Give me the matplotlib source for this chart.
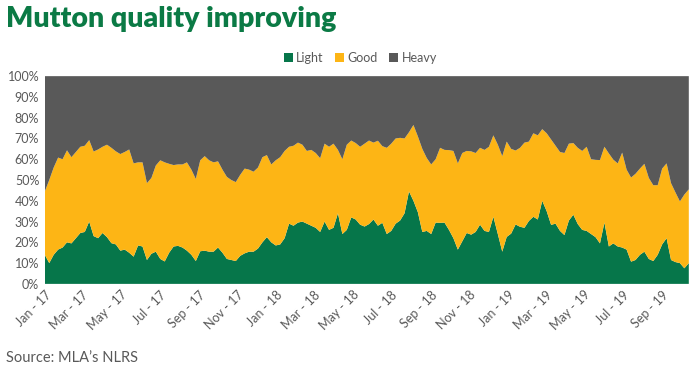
"""Mutton quality improving: weekly share of Light / Good / Heavy mutton."""
import numpy as np
import pandas as pd
import matplotlib
matplotlib.use("Agg")
import matplotlib.pyplot as plt
import matplotlib.dates as mdates
from matplotlib.ticker import FuncFormatter

# weekly shares (%), first week of Jan 2017 onwards
light = [
    14, 10, 14, 16.5, 17.5, 20, 19.5, 22, 24.5, 25,
    30, 23, 22, 24.5, 22.5, 19.6, 19, 16, 16.5, 15,
    13.1, 18.5, 18, 11.5, 14.5, 15.5, 12, 10.8, 15, 18,
    18.3, 17.5, 16, 14, 11, 15.7, 16, 15.5, 15.5, 17.5,
    15, 12, 11.5, 11, 13.5, 14.7, 15.5, 15.5, 17, 20,
    22.5, 20, 18.5, 19, 22, 29, 28, 29.5, 30, 29,
    28, 27, 25, 30, 26, 27, 34, 24, 26, 32,
    31, 28.5, 27.6, 28.8, 31, 28, 29.4, 24, 25.5, 29,
    30.5, 34, 44.5, 40, 34.5, 25, 25.5, 24, 29.5, 29.4,
    29.5, 26, 22, 16.5, 20.5, 24.5, 23.7, 25, 28.5, 25.5,
    25, 32.3, 24, 15.5, 22.6, 24.2, 28.6, 27.5, 27, 30.3,
    32.3, 31, 40, 35, 28.4, 29, 25.5, 23.5, 30.5, 33.3,
    28.8, 26, 25.5, 24, 22.5, 19.5, 29.5, 18, 19.5, 18,
    17.5, 16.5, 10.7, 11.5, 14, 15.5, 12, 11, 14, 19,
    22, 11.5, 10.5, 10, 7.5, 10,
]
good = [
    30.5, 40, 42, 44.3, 42.5, 44.3, 41.5, 41.5, 41.5, 41.5,
    39.2, 40.7, 42.7, 41.5, 44.5, 45.9, 44.8, 46.5, 47, 49.7,
    44.9, 40, 40.5, 37, 36.5, 41.5, 47.5, 47.7, 42.8, 39.2,
    39.2, 40, 42.5, 41, 39.5, 43.8, 45.5, 44, 43, 41.5,
    40, 39.5, 38.5, 38, 39, 40.8, 39.5, 38.5, 39, 41,
    39.5, 37.5, 41, 42, 42, 37, 38.5, 38.5, 37, 35,
    36.5, 36, 35.5, 37.5, 40, 40.5, 30.5, 36, 41, 37,
    36.8, 37.5, 39.9, 40.2, 37, 40.9, 36.9, 41.5, 42, 41,
    39.8, 36, 28.5, 36.5, 36.5, 40, 35.1, 33.5, 30.5, 36.1,
    35, 38.4, 42, 41.5, 42.5, 39.5, 40.1, 38, 37, 39,
    41, 39.2, 43, 46, 45.9, 40.8, 35.6, 38, 41, 38.2,
    40.2, 40.5, 34.5, 37.5, 41.1, 37.5, 38, 39.5, 37, 34.5,
    36.7, 38, 40.5, 36, 37.2, 40.1, 36.5, 44.8, 40.3, 40,
    45.7, 38.5, 40.5, 41.5, 41.5, 42.3, 39, 36.5, 33.5, 36.5,
    36, 37, 33.5, 29.7, 35.5, 35.5,
]
heavy = [100 - l - g for l, g in zip(light, good)]

series_names = ["Light", "Good", "Heavy"]
colors = ["#06764a", "#fdb515", "#595959"]
grey_text = "#595959"

plt.rcParams["font.family"] = ["Lato", "DejaVu Sans"]

weeks = pd.date_range("2017-01-01", periods=len(light), freq="7D")

fig = plt.figure(figsize=(7, 3.77), dpi=100)
ax = fig.add_axes([0.064, 0.247, 0.92, 0.551])

ax.stackplot(weeks, np.array(light) / 100, np.array(good) / 100,
             np.array(heavy) / 100, colors=colors, labels=series_names,
             linewidth=0)

ax.set_xlim(weeks[0], weeks[-1])
ax.set_ylim(0, 1)
ax.set_yticks(np.arange(0, 1.01, 0.1))
ax.yaxis.set_major_formatter(FuncFormatter(lambda v, _: f"{v:.0%}"))
ax.xaxis.set_major_locator(mdates.MonthLocator(bymonth=[1, 3, 5, 7, 9, 11]))
ax.xaxis.set_major_formatter(mdates.DateFormatter("%b - %y"))
ax.tick_params(axis="both", length=0, labelsize=9, labelcolor=grey_text)
ax.tick_params(axis="y", pad=4)
for lab in ax.get_xticklabels():
    lab.set_rotation(45)
    lab.set_ha("right")
    lab.set_rotation_mode("anchor")
for s in ax.spines.values():
    s.set_visible(False)

ax.legend(loc="lower center", bbox_to_anchor=(0.49, 1.005), ncol=3, frameon=False,
          fontsize=9, labelcolor=grey_text, handlelength=0.7, handleheight=0.7,
          handletextpad=0.3, columnspacing=0.9)

fig.text(0.008, 0.985, "Mutton quality improving", fontsize=20.5, fontweight="heavy",
         color="#0b7a45", va="top", ha="left")
fig.text(0.008, 0.05, "Source: MLA\u2019s NLRS", fontsize=10.5, color=grey_text,
         va="center", ha="left")

plt.savefig("out.png", dpi=100)
plt.close()
